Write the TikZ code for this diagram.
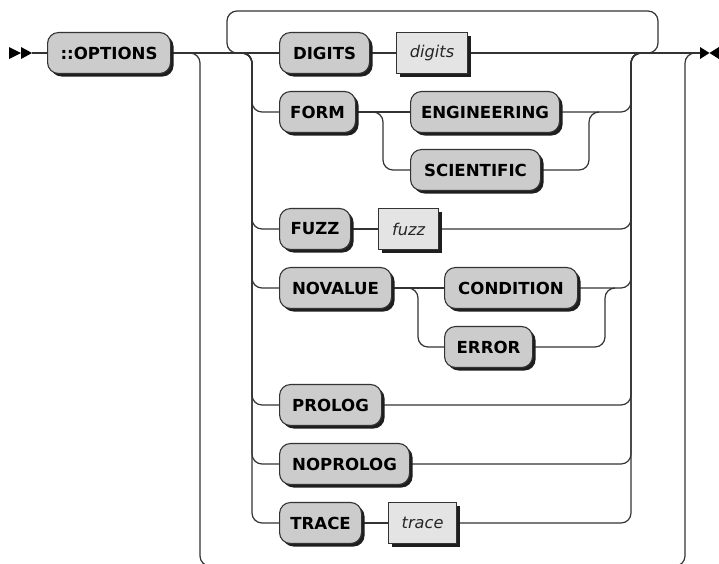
\documentclass[tikz,border=0pt]{standalone}
\usepackage{fontspec}
\setmainfont{DejaVu Sans}
\usetikzlibrary{shadows,backgrounds}
\definecolor{railc}{HTML}{333333}
\definecolor{termfill}{HTML}{CCCCCC}
\definecolor{ntfill}{HTML}{E4E4E4}
\definecolor{shade}{HTML}{1E1E1E}
\begin{document}
\begin{tikzpicture}[x=1pt,y=-1pt,
  rail/.style={draw=railc,line width=1.2pt,rounded corners=10pt},
  boxbase/.style={draw=railc,line width=1.1pt,minimum height=41pt,inner xsep=0pt,anchor=west,
    drop shadow={shadow xshift=3pt,shadow yshift=-3pt,opacity=1,fill=shade}},
  term/.style={boxbase,fill=termfill,rounded corners=11pt,text=black,
    font=\bfseries\fontsize{16.6}{19}\selectfont},
  nonterm/.style={boxbase,fill=ntfill,text=black!85,
    font=\itshape\fontsize{16.2}{19}\selectfont},
  tip/.style={fill=black}]
\useasboundingbox (0,0) rectangle (719,563);

% keyword and value boxes
\node[term, minimum width=123pt] (opt) at (47,53) {::OPTIONS};
\node[term, minimum width=90pt] (digitsK) at (279,53) {DIGITS};
\node[nonterm, minimum width=71pt] (digitsV) at (396,53) {digits};
\node[term, minimum width=76pt] (form) at (279,112) {FORM};
\node[term, minimum width=149pt] (eng) at (410,112) {ENGINEERING};
\node[term, minimum width=130pt] (sci) at (410,170) {SCIENTIFIC};
\node[term, minimum width=71pt] (fuzzK) at (279,229) {FUZZ};
\node[nonterm, minimum width=60pt] (fuzzV) at (378,229) {fuzz};
\node[term, minimum width=112pt] (noval) at (279,288) {NOVALUE};
\node[term, minimum width=133pt] (cond) at (444,288) {CONDITION};
\node[term, minimum width=88pt] (err) at (444,347) {ERROR};
\node[term, minimum width=102pt] (prolog) at (279,405) {PROLOG};
\node[term, minimum width=130pt] (noprolog) at (279,464) {NOPROLOG};
\node[term, minimum width=82pt] (trace) at (279,523) {TRACE};
\node[nonterm, minimum width=68pt] (traceV) at (388,523) {trace};

% junction points of the tracks
\coordinate (startA) at (32,53);
\coordinate (endA) at (700,53);
\coordinate (byL) at (200,53);
\coordinate (byR) at (685,53);
\coordinate (lpL) at (227,53);
\coordinate (lpR) at (658,53);
\coordinate (chL) at (252,53);
\coordinate (mgR) at (631,53);
\coordinate (fsplit) at (383,112);
\coordinate (fjoin) at (589,112);
\coordinate (nsplit) at (418,288);
\coordinate (njoin) at (605,288);

\begin{scope}[on background layer]
  \fill[white] (0,0) rectangle (719,563);
  \clip (0,0) rectangle (719,563);
  % main line
  \draw[rail] (startA) -- (opt.west);
  \draw[rail] (opt.east) -- (digitsK.west);
  \draw[rail] (digitsK.east) -- (digitsV.west);
  \draw[rail] (digitsV.east) -- (endA);
  % bypass of the whole option list
  \draw[rail] ([xshift=-10pt]byL) -- (byL) -- (byL |- 0,566) -- (byR |- 0,566) -- (byR) -- ([xshift=10pt]byR);
  % repeat loop
  \draw[rail] ([xshift=-10pt]lpR) -- (lpR) -- (lpR |- 0,11) -- (lpL |- 0,11) -- (lpL) -- ([xshift=10pt]lpL);
  % choice branches
  \foreach \n in {form,fuzzK,noval,prolog,noprolog,trace}
    \draw[rail] ([xshift=-10pt]chL) -- (chL) -- (chL |- \n.west) -- (\n.west);
  \foreach \n in {eng,fuzzV,cond,prolog,noprolog,traceV}
    \draw[rail] (\n.east) -- (mgR |- \n.east) -- (mgR) -- ([xshift=10pt]mgR);
  % FORM alternatives
  \draw[rail] (form.east) -- (eng.west);
  \draw[rail] (form.east) -- (fsplit) -- (fsplit |- sci.west) -- (sci.west);
  \draw[rail] (sci.east) -- (fjoin |- sci.east) -- (fjoin) -- ([xshift=10pt]fjoin);
  % NOVALUE alternatives
  \draw[rail] (noval.east) -- (cond.west);
  \draw[rail] (noval.east) -- (nsplit) -- (nsplit |- err.west) -- (err.west);
  \draw[rail] (err.east) -- (njoin |- err.east) -- (njoin) -- ([xshift=10pt]njoin);
  % single successors
  \draw[rail] (fuzzK.east) -- (fuzzV.west);
  \draw[rail] (trace.east) -- (traceV.west);
\end{scope}

% start and end markers
\fill[tip] (9,47) -- (21,53) -- (9,59) -- cycle;
\fill[tip] (21,47) -- (32,53) -- (21,59) -- cycle;
\fill[tip] (700,47) -- (709.5,53) -- (700,59) -- cycle;
\fill[tip] (719,47) -- (709.5,53) -- (719,59) -- cycle;
\end{tikzpicture}
\end{document}
